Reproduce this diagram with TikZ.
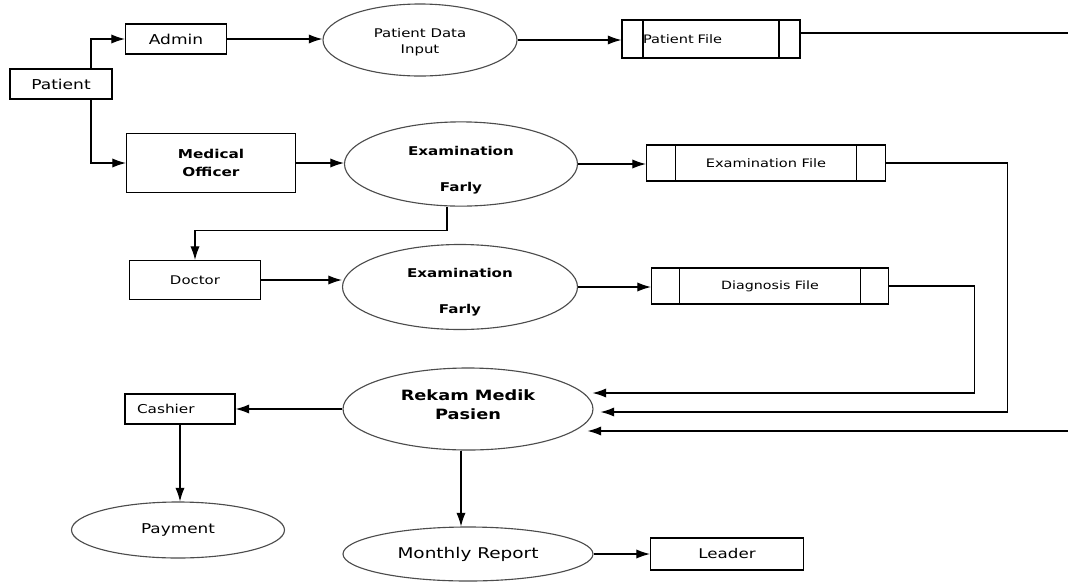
\documentclass[tikz,border=0pt]{standalone}
\usepackage{fontspec}
\setmainfont{DejaVu Sans}[FakeStretch=1.25]
\usetikzlibrary{shapes.geometric,arrows.meta}

\newcommand{\txtsize}[2]{\fontsize{#1}{#2}\selectfont}

\tikzset{
  box/.style={draw, rectangle, inner sep=0pt},
  proc/.style={draw=black!70, ellipse, inner sep=0pt, align=center},
  store/.style={draw, rectangle, inner sep=0pt, path picture={
      \draw ([xshift=#1]path picture bounding box.north west) -- ([xshift=#1]path picture bounding box.south west);
      \draw ([xshift=-#1]path picture bounding box.north east) -- ([xshift=-#1]path picture bounding box.south east);}},
  flow/.style={-{Latex[length=3.4mm,width=2.3mm]}}
}

\begin{document}
\begin{tikzpicture}[x=0.025cm, y=-0.025cm, line width=0.8pt]
        % one unit = one pixel of the sketch
        \def\px{0.025cm}
        \useasboundingbox (0,0) rectangle (1068,581);

        % Entities
        \node[box, minimum width=102*\px, minimum height=30*\px, font=\txtsize{9.7}{11}] (patient) at (61,84) {Patient};
        \node[box, minimum width=101*\px, minimum height=30*\px, font=\txtsize{9.7}{11}] (admin) at (176,39) {Admin};
        \node[box, minimum width=169*\px, minimum height=59*\px, align=center, font=\bfseries\txtsize{8.7}{12.8}] (mo) at (211,163) {Medical\\Officer};
        \node[box, minimum width=131*\px, minimum height=39*\px, font=\txtsize{8.5}{10}] (doctor) at (195,280) {Doctor};
        \node[box, text width=86*\px, inner xsep=12*\px, minimum height=30*\px, align=left, font=\txtsize{8.7}{10}] (cashier) at (180,409) {Cashier};
        \node[box, minimum width=153*\px, minimum height=32*\px, font=\txtsize{9.5}{11}] (leader) at (727,554) {Leader};

        % Processes
        \node[proc, minimum width=194*\px, minimum height=72*\px, font=\txtsize{8.5}{11.3}] (pdi) at (420,40) {\rule{0pt}{9pt}Patient Data\\Input};
        \node[proc, minimum width=233*\px, minimum height=80*\px, font=\bfseries\txtsize{8.6}{10.5}] (ee1) at (461,164) {\rule{0pt}{15pt}Examination\\[15pt]Farly};
        \node[proc, minimum width=235*\px, minimum height=85*\px, font=\bfseries\txtsize{8.6}{10.5}] (ee2) at (460,287) {\rule{0pt}{14pt}Examination\\[15pt]Farly};
        \node[proc, minimum width=250*\px, minimum height=82*\px, font=\bfseries\txtsize{10.1}{13.5}] (rekam) at (468,409) {Rekam Medik\\Pasien\rule[-6pt]{0pt}{6pt}};
        \node[proc, minimum width=213*\px, minimum height=56*\px, font=\txtsize{9.6}{11}] (payment) at (178,530) {Payment};
        \node[proc, minimum width=250*\px, minimum height=54*\px, font=\txtsize{10.5}{12}] (monthly) at (468,554) {Monthly Report};

        % Data stores
        \node[store=21*\px, text width=136*\px, inner xsep=21*\px, minimum height=38*\px, align=left, font=\txtsize{8.3}{10}] (pfile) at (711,39) {Patient File};
        \node[store=29*\px, minimum width=239*\px, minimum height=36*\px, font=\txtsize{8.3}{10}] (efile) at (766,163) {Examination File};
        \node[store=28*\px, minimum width=237*\px, minimum height=36*\px, font=\txtsize{8.1}{10}] (dfile) at (770,286) {Diagnosis File};

        % Free ends at the right margin
        \coordinate (edgeA) at (1068,33);
        \coordinate (edgeB) at (1068,431);

        % Flows
        \draw[flow] ([xshift=30*\px]patient.north) |- (admin.west);
        \draw[flow] ([xshift=30*\px]patient.south) |- (mo.west);
        \draw[flow] (admin.east) -- (admin.east -| pdi.west);
        \draw[flow] (pdi.east) -- (pdi.east -| pfile.west);
        \draw (pfile.east |- edgeA) -- (edgeA);
        \draw[flow] (mo.east) -- (mo.east -| ee1.west);
        \draw[flow] (ee1.east) -- (ee1.east -| efile.west);
        \draw[flow] ([xshift=-14*\px]ee1.south) -- ++(0,24) -| (doctor.north);
        \draw[flow] (doctor.east) -- (doctor.east -| ee2.west);
        \draw[flow] (ee2.east) -- (ee2.east -| dfile.west);
        \draw[flow] (dfile.east) -- ++(85,0) |- ([xshift=-1*\px,yshift=16*\px]rekam.east);
        \draw[flow] (efile.east) -- ++(121,0) |- ([xshift=7*\px,yshift=-3*\px]rekam.east);
        \draw[flow] (edgeB) -- ([xshift=-6*\px,yshift=-22*\px]rekam.east);
        \draw[flow] (rekam.west) -- (rekam.west -| cashier.east);
        \draw[flow] (cashier.south) -- (cashier.south |- payment.north);
        \draw[flow] ([xshift=-7*\px]rekam.south) -- ([xshift=-7*\px]rekam.south |- monthly.north);
        \draw[flow] (monthly.east) -- (monthly.east -| leader.west);
\end{tikzpicture}
\end{document}
